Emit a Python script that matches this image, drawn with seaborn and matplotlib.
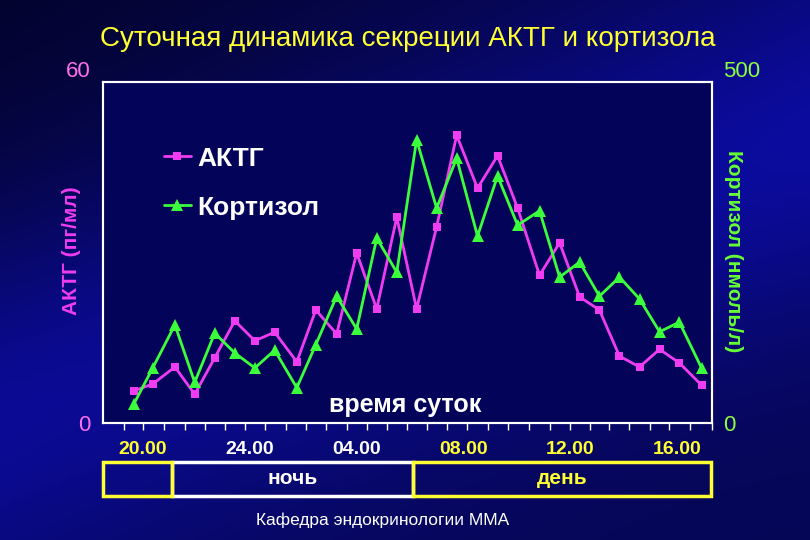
import matplotlib
matplotlib.use('Agg')
import matplotlib.pyplot as plt
import seaborn as sns
import numpy as np
import pandas as pd
from matplotlib.patches import Rectangle

# время отбора проб, часы (после полуночи счёт идёт дальше: 25 = 01.00)
hours = [19.66, 20.37, 21.20, 21.94, 22.69, 23.44, 24.19, 24.93, 25.76, 26.47,
         27.25, 28.00, 28.75, 29.50, 30.24, 30.99, 31.74, 32.52, 33.27, 34.02,
         34.84, 35.59, 36.34, 37.08, 37.83, 38.58, 39.33, 40.07, 40.90]
# АКТГ, пг/мл
acth = [5.7, 6.9, 9.9, 5.1, 11.5, 18.0, 14.5, 16.0, 10.8, 19.9,
        15.7, 29.9, 20.1, 36.2, 20.1, 34.5, 50.6, 41.3, 47.0, 37.8,
        26.0, 31.7, 22.2, 19.9, 11.8, 9.9, 13.0, 10.6, 6.7]
# кортизол, нмоль/л
cortisol = [28, 81, 144, 60, 132, 103, 81, 107, 52, 115,
            186, 138, 271, 221, 415, 315, 388, 274, 362, 290,
            311, 214, 236, 186, 214, 182, 134, 148, 81]

tick_hours = [20, 24, 28, 32, 36, 40]
tick_labels = ['20.00', '24.00', '04.00', '08.00', '12.00', '16.00']
tick_colors = ['#ffff33', 'white', 'white', '#ffff33', '#ffff33', '#ffff33']

df = pd.DataFrame({'hour': hours, 'acth': acth, 'cortisol': cortisol})

sns.set_theme(style='ticks')
plt.rcParams['font.family'] = ['Liberation Sans', 'DejaVu Sans']

BG = '#0a0b74'
PLOT_BG = '#03035a'
MAGENTA = '#f03cf0'
GREEN = '#3cff3c'
YELLOW = '#ffff33'

fig = plt.figure(figsize=(8.1, 5.4), dpi=100, facecolor=BG)

# фон слайда: тёмно-синий с более светлой диагональной полосой
bg_ax = fig.add_axes([0, 0, 1, 1], zorder=-10)
gx, gy = np.meshgrid(np.linspace(0, 1, 200), np.linspace(0, 1, 140))
band = np.exp(-((gy - 0.25 - 0.5 * gx) / 0.35) ** 2)
shade = 0.55 + 0.45 * band - 0.25 * (1 - gx) * gy
rgb = np.dstack([0.045 * shade, 0.045 * shade, 0.62 * shade])
bg_ax.imshow(np.clip(rgb, 0, 1), extent=[0, 1, 0, 1], aspect='auto', origin='lower')
bg_ax.set_axis_off()

ax = fig.add_axes([0.1275, 0.2161, 0.7511, 0.6326])
ax.set_facecolor(PLOT_BG)
ax2 = ax.twinx()

sns.lineplot(data=df, x='hour', y='acth', ax=ax, color=MAGENTA, lw=2,
             marker='s', markersize=6, markeredgewidth=0, label='АКТГ', legend=False)
sns.lineplot(data=df, x='hour', y='cortisol', ax=ax2, color=GREEN, lw=2,
             marker='^', markersize=8, markeredgewidth=0, label='Кортизол', legend=False)

ax.set_xlim(18.52, 41.26)
ax.set_ylim(0, 60)
ax2.set_ylim(0, 500)

for a in (ax, ax2):
    for s in a.spines.values():
        s.set_color('white')
        s.set_linewidth(1.5)

# метки оси X
ax.set_xticks(tick_hours)
ax.set_xticklabels(tick_labels, fontsize=14, fontweight='bold')
for lab, c in zip(ax.get_xticklabels(), tick_colors):
    lab.set_color(c)
step = np.diff(hours).mean()
bounds = np.concatenate([[hours[0] - step / 2],
                         (np.array(hours[1:]) + np.array(hours[:-1])) / 2,
                         [hours[-1] + step / 2]])
ax.set_xticks(bounds, minor=True)
ax.tick_params(axis='x', which='major', length=0, pad=13)
ax.tick_params(axis='x', which='minor', length=5, width=1, color='white', direction='out')
ax.set_xlabel('')

# левая ось
ax.set_yticks([0, 60])
ax.set_yticklabels(['0', '60'], fontsize=16, color='#ff70ec')
ax.get_yticklabels()[1].set_verticalalignment('bottom')
ax.tick_params(axis='y', length=0, pad=9)
ax.set_ylabel('АКТГ (пг/мл)', fontsize=15, fontweight='bold', color=MAGENTA,
              va='center')
ax.yaxis.set_label_coords(-0.052, 0.504)

# правая ось
ax2.set_yticks([0, 500])
ax2.set_yticklabels(['0', '500'], fontsize=16, color='#8cff40')
ax2.get_yticklabels()[1].set_verticalalignment('bottom')
ax2.tick_params(axis='y', length=0, pad=8)
ax2.set_ylabel('Кортизол (нмоль/л)', fontsize=15, fontweight='bold',
               color='#66ff33', rotation=270, va='center')
ax2.yaxis.set_label_coords(1.036, 0.504)

# легенда
h1, l1 = ax.get_legend_handles_labels()
h2, l2 = ax2.get_legend_handles_labels()
leg = ax.legend(h1 + h2, l1 + l2, loc='upper left', bbox_to_anchor=(0.1, 0.81),
                frameon=False, borderpad=0, borderaxespad=0, handlelength=1.0,
                handletextpad=0.25, labelspacing=0.95,
                prop={'size': 19, 'weight': 'bold'})
for t in leg.get_texts():
    t.set_color('white')

ax.text(0.497, 0.055, 'время суток', transform=ax.transAxes, ha='center', va='center',
        fontsize=18, fontweight='bold', color='white')

fig.text(0.503, 0.927, 'Суточная динамика секреции АКТГ и кортизола',
         ha='center', va='center', fontsize=20, color=YELLOW)

# полоса ночь / день
y0, h = 0.0815, 0.063
fig.add_artist(Rectangle((0.2123, y0), 0.5099 - 0.2123, h, transform=fig.transFigure,
                         fill=False, ec='white', lw=2.5))
fig.add_artist(Rectangle((0.127, y0), 0.2123 - 0.127, h, transform=fig.transFigure,
                         fill=False, ec=YELLOW, lw=2.5))
fig.add_artist(Rectangle((0.5099, y0), 0.878 - 0.5099, h, transform=fig.transFigure,
                         fill=False, ec=YELLOW, lw=2.5))
fig.text(0.361, y0 + h / 2, 'ночь', ha='center', va='center', fontsize=15,
         fontweight='bold', color='white')
fig.text(0.694, y0 + h / 2, 'день', ha='center', va='center', fontsize=15,
         fontweight='bold', color=YELLOW)

fig.text(0.472, 0.037, 'Кафедра эндокринологии ММА', ha='center', va='center',
         fontsize=12.5, color='white')

fig.savefig('out.png', dpi=100, facecolor=BG)
